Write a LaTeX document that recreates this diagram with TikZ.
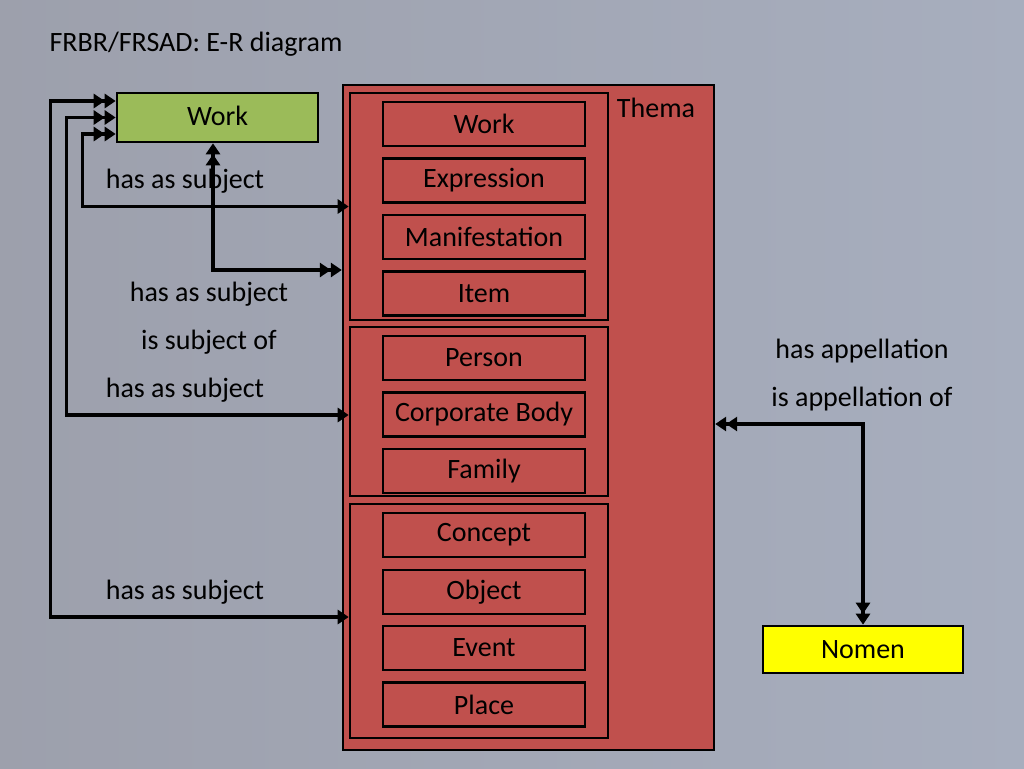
\documentclass[tikz,border=0pt]{standalone}
\usepackage{fontspec}
\setmainfont{Carlito}
\usepackage{tikz}
\usetikzlibrary{arrows.meta}
\definecolor{bgleft}{rgb}{0.615, 0.627, 0.675}
\definecolor{bgright}{rgb}{0.655, 0.682, 0.745}
\definecolor{thema}{rgb}{0.753, 0.314, 0.302}
\definecolor{workgreen}{rgb}{0.608, 0.733, 0.349}
\definecolor{nomenyellow}{rgb}{1, 1, 0}
\tikzset{
  txt/.style={font=\fontsize{28}{32}\selectfont},
  entity/.style={txt, draw=black, line width=2.6pt, inner sep=0pt,
    minimum width=202pt, minimum height=44pt},
  group/.style={draw=black, line width=2.6pt, minimum width=258pt, inner sep=0pt},
  conn/.style={line width=3.2pt},
  two/.style={conn, {Triangle[length=11pt,width=14pt]Triangle[length=11pt,width=14pt]}-},
  twotwo/.style={conn, {Triangle[length=11pt,width=14pt]Triangle[length=11pt,width=14pt]}-{Triangle[length=11pt,width=14pt]Triangle[length=11pt,width=14pt]}},
  twoone/.style={conn, {Triangle[length=11pt,width=14pt]Triangle[length=11pt,width=14pt]}-{Triangle[length=11pt,width=14pt]}}
}
\begin{document}
\begin{tikzpicture}[x=1pt, y=-1pt]
      \useasboundingbox (0,0) rectangle (1024,768);
      \shade[left color=bgleft, right color=bgright] (0,0) rectangle (1024,768);
      \node[txt, anchor=west] (title) at (46,44) {FRBR/FRSAD: E-R diagram};
      % the big Thema box with three groups
      \node[draw=black, line width=2.4pt, fill=thema, minimum width=371pt, minimum height=665pt] (thema) at (528.5,417.5) {};
      \node[txt] (thematxt) at (656,108) {Thema};
      \node[group, minimum height=227pt] (g1) at (479,206.5) {};
      \node[group, minimum height=169pt] (g2) at (479,411.5) {};
      \node[group, minimum height=234pt] (g3) at (479,621) {};
      \foreach \n/\y/\t in {work/124/Work, expr/180.5/Expression, mani/237/Manifestation, item/293.5/Item,
          person/358/Person, corp/414.5/Corporate Body, family/471/Family,
          concept/535/Concept, object/592/Object, event/648/Event, place/704.5/Place}
        \node[entity] (\n) at (484,\y) {\t};
      \node[entity, fill=workgreen, minimum width=201pt, minimum height=49pt] (w) at (217.5,117.5) {};
      \node[txt] (wtxt) at (217.5,116) {Work};
      \node[entity, fill=nomenyellow, minimum width=200pt, minimum height=47pt] (nomen) at (863,649.5) {Nomen};
      % labels
      \node[txt] (l1) at (185,181) {has as subject};
      \node[txt] (l2) at (209,294) {has as subject};
      \node[txt] (l3) at (209,342) {is subject of};
      \node[txt] (l4) at (185,390) {has as subject};
      \node[txt] (l5) at (185,592) {has as subject};
      \node[txt] (l6) at (862,351) {has appellation};
      \node[txt] (l7) at (862,399) {is appellation of};
      % connectors
      \draw[twoone] ([yshift=16.5pt]w.west) -- ++(-65,0) |- ([yshift=4pt]g3.west);
      \draw[twoone] (w.west) -- ++(-49,0) |- ([yshift=-3.5pt]g2.west);
      \draw[twoone] ([yshift=-16.5pt]w.west) -- ++(-33,0) |- (g1.west);
      \draw[twotwo] ([xshift=-4.5pt]w.south) |- (thema.west |- 0,270);
      \draw[twotwo] ([yshift=-6.5pt]thema.east) -| (nomen.north);
    \end{tikzpicture}
\end{document}
